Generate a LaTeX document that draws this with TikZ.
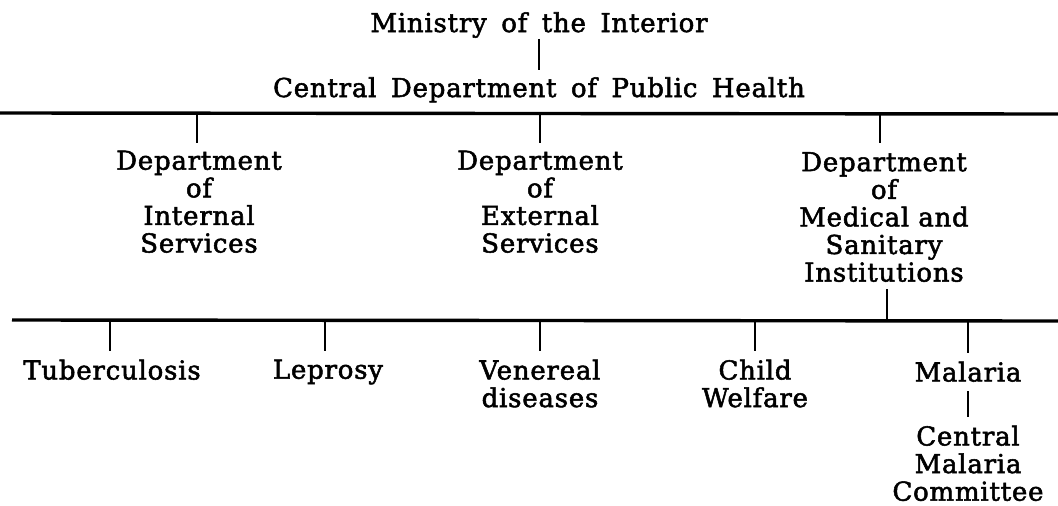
\documentclass[tikz,border=0pt]{standalone}
\usepackage{fontspec}
\setmainfont{DejaVu Serif}[LetterSpace=3, FakeBold=2]
\newfontfamily\topfont{DejaVu Serif}[LetterSpace=3, WordSpace=1.6, FakeBold=2]
\begin{document}
\begin{tikzpicture}[x=1pt,y=-1pt,
  lbl/.style={inner sep=0pt, align=center, font=\fontsize{26}{27.6}\selectfont},
  toplbl/.style={lbl, font=\topfont\fontsize{26}{27.6}\selectfont},
  bar/.style={line width=3.4pt},
  tick/.style={line width=2.6pt}]
\useasboundingbox (0,0) rectangle (1058,506);
% top
\node[toplbl, anchor=base] (min) at (539,32) {Ministry of the Interior};
\node[toplbl, anchor=base] (cdph) at (539,97) {Central Department of Public Health};
\draw[tick, shorten <=1pt, shorten >=7pt] (min.south) -- (min.south |- cdph.north);
% first bar
\coordinate (b1l) at (0,113);
\coordinate (b1r) at (1058,114);
\draw[bar] (b1l) -- (b1r);
\coordinate (t1) at (197,114);
\coordinate (t2) at (540,114);
\coordinate (t3) at (880,114);
\node[lbl, anchor=north] (dis) at (199,150.5) {Department\\of\\Internal\\Services};
\node[lbl, anchor=north] (des) at (540,150.5) {Department\\of\\External\\Services};
\node[lbl, anchor=north] (dms) at (884,152) {Department\\of\\Medical and\\Sanitary\\Institutions};
\draw[tick, shorten >=7.5pt] (t1) -- (t1 |- dis.north);
\draw[tick, shorten >=7.5pt] (t2) -- (t2 |- des.north);
\draw[tick, shorten >=9pt] (t3) -- (t3 |- dms.north);
% second bar
\coordinate (b2l) at (12,320);
\coordinate (b2r) at (1058,321);
\draw[bar] (b2l) -- (b2r);
\coordinate (up) at (887,320);
\draw[tick, shorten >=7pt] (up) -- (up |- dms.south);
\coordinate (s1) at (110,320);
\coordinate (s2) at (325,320);
\coordinate (s3) at (540,320);
\coordinate (s4) at (755,320);
\coordinate (s5) at (968,320);
\node[lbl, anchor=north] (tub) at (112,359.5) {Tuberculosis};
\node[lbl, anchor=north] (lep) at (328,359.5) {Leprosy};
\node[lbl, anchor=north] (ven) at (540,359.5) {Venereal\\diseases};
\node[lbl, anchor=north] (chw) at (755,359.5) {Child\\Welfare};
\node[lbl, anchor=north] (mal) at (968,361.5) {Malaria};
\draw[tick, shorten >=9pt] (s1) -- (s1 |- tub.north);
\draw[tick, shorten >=9pt] (s2) -- (s2 |- lep.north);
\draw[tick, shorten >=9pt] (s3) -- (s3 |- ven.north);
\draw[tick, shorten >=9pt] (s4) -- (s4 |- chw.north);
\draw[tick, shorten >=9pt] (s5) -- (s5 |- mal.north);
\node[lbl, anchor=north] (cmc) at (968,425.5) {Central\\Malaria\\Committee};
\draw[tick, shorten <=9pt, shorten >=8.5pt] (mal.south) -- (cmc.north);
\end{tikzpicture}
\end{document}
